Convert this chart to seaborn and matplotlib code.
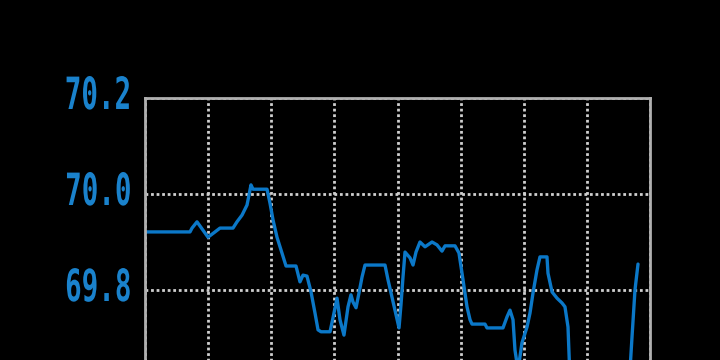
import matplotlib
matplotlib.use("Agg")
import matplotlib.pyplot as plt
import seaborn as sns
import pandas as pd
from matplotlib.patheffects import AbstractPathEffect
from matplotlib.transforms import Affine2D

# data
t = [0, 7.13, 7.45, 8.24, 9.98, 11.09, 11.88, 13.94, 14.57, 15.37, 16.16, 16.48, 16.79,
     17.11, 19.33, 19.80, 20.28, 20.91, 21.70, 22.34, 23.92, 24.55, 25.03, 25.66, 26.30,
     26.93, 27.41, 27.88, 29.31, 29.78, 30.42, 30.89, 31.52, 32.16, 32.63, 32.95, 33.43,
     33.90, 34.38, 34.85, 38.02, 38.50, 39.13, 39.60, 40.24, 40.55, 40.87, 41.19, 41.98,
     42.46, 42.93, 43.56, 44.36, 45.47, 46.26, 47.05, 47.53, 49.11, 49.74, 50.38, 51.01,
     51.49, 51.80, 53.86, 54.18, 56.71, 57.35, 57.82, 58.30, 58.61, 59.09, 59.72, 60.52,
     60.99, 61.47, 62.10, 62.57, 63.68, 63.84, 64.48, 65.27, 66.06, 66.53, 67.01, 67.33,
     68.91, 72.08, 75.25, 76.83, 77.15, 77.62, 78.10]
value = [69.921, 69.921, 69.929, 69.942, 69.910, 69.921, 69.929, 69.929, 69.942, 69.956,
         69.977, 69.998, 70.019, 70.010, 70.010, 69.981, 69.946, 69.910, 69.877, 69.850,
         69.850, 69.817, 69.831, 69.829, 69.796, 69.752, 69.717, 69.713, 69.713, 69.742,
         69.783, 69.738, 69.706, 69.765, 69.790, 69.775, 69.763, 69.794, 69.827, 69.852,
         69.852, 69.821, 69.785, 69.758, 69.721, 69.769, 69.827, 69.879, 69.867, 69.852,
         69.879, 69.900, 69.890, 69.900, 69.894, 69.881, 69.892, 69.892, 69.877, 69.821,
         69.765, 69.738, 69.729, 69.729, 69.721, 69.721, 69.744, 69.758, 69.738, 69.675,
         69.633, 69.690, 69.723, 69.752, 69.794, 69.842, 69.869, 69.869, 69.835, 69.796,
         69.783, 69.773, 69.765, 69.723, 69.613, 69.571, 69.550, 69.581, 69.633, 69.702,
         69.800, 69.854]
y_ticks = [69.8, 70.0, 70.2]
y_labels = ["69.8", "70.0", "70.2"]
x_ticks = [0, 10, 20, 30, 40, 50, 60, 70, 80]

df = pd.DataFrame({"t": t, "value": value})


class Squeeze(AbstractPathEffect):
    """Narrow the glyphs horizontally (keeping their right edge) and lift them a bit."""

    def __init__(self, sx, dy):
        super().__init__()
        self.sx = sx
        self.dy = dy

    def draw_path(self, renderer, gc, tpath, affine, rgbFace=None):
        x1 = tpath.get_extents().x1
        tr = (Affine2D().translate(-x1, 0).scale(self.sx, 1).translate(x1, 0)
              + affine + Affine2D().translate(0, self.dy))
        renderer.draw_path(gc, tpath, tr, rgbFace)


sns.set_theme(style="dark")
plt.rcParams["font.family"] = ["DejaVu Sans Mono"]

fig = plt.figure(figsize=(7.2, 3.6), dpi=100, facecolor="black")
ax = fig.add_axes([145 / 720, -0.3389, 505 / 720, 384 / 360])
ax.set_facecolor("black")

sns.lineplot(data=df, x="t", y="value", ax=ax, color="#0b78c8", linewidth=2.4)

ax.set_xlim(0, 80)
ax.set_ylim(69.4, 70.2)
ax.set_xticks(x_ticks)
ax.set_yticks(y_ticks)
ax.set_yticklabels(y_labels)
ax.set_xticklabels([])
ax.set_xlabel("")
ax.set_ylabel("")
ax.tick_params(axis="both", length=0)
ax.tick_params(axis="y", pad=9, labelsize=32, labelcolor="#1a82cc")
for lbl in ax.get_yticklabels():
    lbl.set_fontweight("bold")
    lbl.set_path_effects([Squeeze(0.62, 6)])
ax.grid(True, color="#cfcfcf", linestyle=(0, (1, 1)), linewidth=2.0)
for side in ["left", "top", "right", "bottom"]:
    ax.spines[side].set_visible(True)
    ax.spines[side].set_color("#b0b0b0")
    ax.spines[side].set_linewidth(2.0)

fig.savefig("out.png", dpi=100, facecolor="black")
